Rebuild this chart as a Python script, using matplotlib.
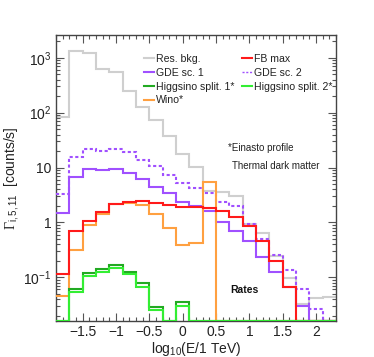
import numpy as np
import matplotlib
matplotlib.use('Agg')
import matplotlib.pyplot as plt
from matplotlib.ticker import MultipleLocator, LogLocator, FuncFormatter, NullFormatter
from matplotlib.lines import Line2D

plt.rcParams['font.family'] = ['Liberation Sans', 'DejaVu Sans']
plt.rcParams['mathtext.fontset'] = 'custom'
plt.rcParams['mathtext.rm'] = 'Liberation Sans'
plt.rcParams['mathtext.it'] = 'Liberation Sans:italic'
plt.rcParams['mathtext.bf'] = 'Liberation Sans:bold'
plt.rcParams['mathtext.cal'] = 'Liberation Serif'

# bin edges in log10(E/1 TeV)
edges = np.linspace(-1.9, 2.3, 22)

# rates per bin [counts/s]
res_bkg = [85, 1350, 1200, 615, 550, 250, 128, 72, 38, 18, 10.4,
           3.7, 3.6, 3.0, 0.93, 0.65, 0.24, 0.098, 0.032, 0.042, 0.044]
fb_max = [0.115, 0.71, 1.08, 1.57, 2.17, 2.37, 2.47, 2.24, 2.08, 1.94, 1.94,
          1.86, 1.64, 1.24, 0.86, 0.46, 0.2, 0.067, 0, 0, 0]
gde_sc1 = [1.5, 6.7, 9.5, 9.1, 9.6, 8.0, 6.3, 4.5, 3.4, 2.35, 2.0,
           1.6, 1.03, 0.7, 0.45, 0.237, 0.123, 0.068, 0.030, 0, 0]
gde_sc2 = [3.3, 15.3, 21.8, 20.4, 21.8, 19, 14, 10.5, 7.3, 5.2, 4.3,
           3.4, 2.35, 2.0, 0.93, 0.49, 0.26, 0.135, 0.06, 0.027, 0]
higgsino1 = [0, 0.061, 0.118, 0.14, 0.166, 0.126, 0.078, 0.029, 0, 0.036, 0,
             0, 0, 0, 0, 0, 0, 0, 0, 0, 0]
higgsino2 = [0, 0.053, 0.106, 0.123, 0.146, 0.113, 0.067, 0.025, 0, 0.030, 0,
             0, 0, 0, 0, 0, 0, 0, 0, 0, 0]
wino = [0.046, 0.32, 0.88, 1.45, 2.2, 2.3, 2.05, 1.4, 0.78, 0.39, 0.43,
        5.5, 0, 0, 0, 0, 0, 0, 0, 0, 0]

ymin, ymax = 0.016, 2600

fig = plt.figure(figsize=(3.74, 3.57), dpi=100)
ax = fig.add_axes([56/374, 1 - 321/357, 280/374, 286/357])

def draw(vals, color, ls='-', z=2):
    # empty bins sit on the bottom of the frame, like ROOT does
    v = np.clip(np.array(vals, dtype=float), ymin, None)
    ax.stairs(v, edges, baseline=None, color=color, lw=1.5, ls=ls, zorder=z)

draw(res_bkg, '#cfcfcf', z=2)
draw(gde_sc1, '#a050ff', z=3)
draw(gde_sc2, '#a050ff', ls=(0, (1.5, 1.2)), z=3)
draw(wino, '#ffa040', z=4)
draw(fb_max, '#ff1a1a', z=5)
draw(higgsino1, '#22aa22', z=6)
draw(higgsino2, '#33ee33', z=6)

ax.set_yscale('log')
ax.set_xlim(edges[0], edges[-1])
ax.set_ylim(ymin, ymax)

ax.xaxis.set_major_locator(MultipleLocator(0.5))
ax.xaxis.set_minor_locator(MultipleLocator(0.1))
ax.xaxis.set_major_formatter(FuncFormatter(lambda v, p: '0' if abs(v) < 1e-9 else f'{v:g}'.replace('-', '\u2212')))
ax.yaxis.set_major_locator(LogLocator(base=10, numticks=10))
ax.yaxis.set_minor_locator(LogLocator(base=10, subs=np.arange(2, 10), numticks=20))
ax.yaxis.set_minor_formatter(NullFormatter())

def ylab(v, p):
    e = int(round(np.log10(v)))
    if e == 0:
        return '1'
    if e == 1:
        return '10'
    return r'$10^{%d}$' % e
ax.yaxis.set_major_formatter(FuncFormatter(ylab))

ax.tick_params(which='both', direction='in', top=True, right=True,
               color='#555555', width=0.8, labelsize=10, labelcolor='#222222')
ax.tick_params(which='major', length=6)
ax.tick_params(which='minor', length=3)
ax.tick_params(axis='x', pad=3)
for s in ax.spines.values():
    s.set_color('#444444')
    s.set_linewidth(1.0)

ax.set_xlabel(r'log$_{10}$(E/1 TeV)', fontsize=10, color='#222222')
ax.xaxis.set_label_coords(0.5, -0.068)
ax.set_ylabel(r'$\mathcal{\Gamma}_{\mathrm{i,5,11}}$  [counts/s]', fontsize=10, color='#222222')
ax.yaxis.set_label_coords(-0.125, 0.5)

handles = [
    Line2D([], [], color='#cfcfcf', lw=1.5),
    Line2D([], [], color='#a050ff', lw=1.5),
    Line2D([], [], color='#22aa22', lw=1.5),
    Line2D([], [], color='#ffa040', lw=1.5),
    Line2D([], [], color='#ff1a1a', lw=1.5),
    Line2D([], [], color='#a050ff', lw=1.0, ls=(0, (1.5, 1.2))),
    Line2D([], [], color='#33ee33', lw=1.5),
]
labels = ['Res. bkg.', 'GDE sc. 1', 'Higgsino split. 1*', 'Wino*',
          'FB max', 'GDE sc. 2', 'Higgsino split. 2*']
fig.legend(handles, labels, loc='upper left', bbox_to_anchor=(144/374, 1 - 54/357),
           ncol=2, frameon=False, fontsize=7.6, handlelength=0.9, handletextpad=0.25,
           columnspacing=0.7, labelspacing=0.36, borderpad=0, borderaxespad=0,
           labelcolor='#222222')

fig.text(228/374, 1 - 148/357, '*Einasto profile', fontsize=7, va='center', color='#222222')
fig.text(232/374, 1 - 166/357, 'Thermal dark matter', fontsize=7, va='center', color='#222222')
fig.text(230/374, 1 - 290/357, 'Rates', fontsize=7.5, fontweight='bold', va='center', color='#111111')

fig.savefig('out.png', dpi=100)
